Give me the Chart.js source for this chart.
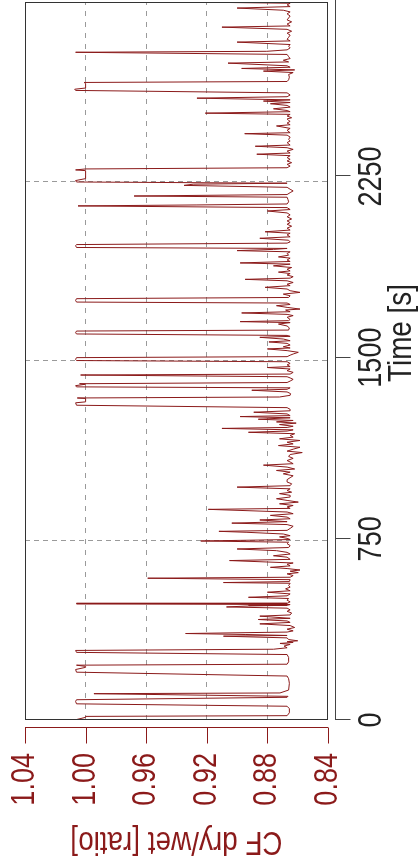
<!DOCTYPE html>
<html>
<head>
<meta charset="utf-8">
<script src="https://cdn.jsdelivr.net/npm/chart.js@4.4.1/dist/chart.umd.min.js"></script>
<style>
  html, body { margin: 0; padding: 0; background: #fff; overflow: hidden; }
  /* chart is drawn landscape, then turned a quarter to the left */
  #wrap { position: absolute; left: 0; top: 0; width: 868px; height: 419px;
          transform-origin: 0 0; transform: translate(0, 868px) rotate(-90deg); }
</style>
</head>
<body>
<div id="wrap"><canvas id="cfChart" width="868" height="419"></canvas></div>
<script>
const timeSec = [
  2, 11, 15, 18, 30, 47, 57, 67, 77, 84, 94, 98, 109, 112, 124, 152, 171, 182, 198, 209, 218, 222, 227, 231, 241, 259, 271, 280, 288, 293, 299,
  306, 313, 317, 321, 324, 328, 333, 340, 347, 350, 354, 358, 364, 369, 376, 383, 391, 398, 404, 410, 416, 421, 430, 435, 443, 450, 456, 463, 468, 472, 475, 478, 481, 483, 489, 496,
  503, 508, 514, 522, 529, 535, 543, 550, 557, 566, 569, 573, 581, 587, 591, 598, 605, 610, 616, 621, 627, 632, 638, 645, 650, 660, 665, 674, 680, 687, 694, 701, 708, 714, 722, 730, 736, 741, 747,
  752, 758, 763, 770, 777, 781, 785, 793, 802, 809, 815, 821, 828, 833, 840, 847, 854, 861, 872, 876, 882, 888, 895, 902, 909, 916, 923, 930, 937, 943, 950, 957, 964, 970, 978, 985,
  995, 1003, 1011, 1019, 1026, 1033, 1039, 1047, 1055, 1061, 1068, 1074, 1083, 1091, 1099, 1107, 1113, 1121, 1129, 1136, 1143, 1150, 1157, 1164, 1171, 1178, 1185, 1191, 1196, 1201, 1207, 1211, 1216, 1223, 1229, 1234, 1240, 1245,
  1251, 1256, 1260, 1267, 1274, 1280, 1286, 1293, 1303, 1313, 1317, 1331, 1333, 1337, 1344, 1351, 1358, 1365, 1369, 1375, 1379, 1384, 1390, 1392, 1397, 1403, 1410, 1416, 1421, 1428, 1432, 1439, 1446, 1453, 1459, 1463, 1470, 1476, 1483,
  1488, 1493, 1500, 1504, 1510, 1515, 1522, 1529, 1536, 1540, 1545, 1552, 1559, 1565, 1570, 1577, 1584, 1588, 1592, 1598, 1603, 1610, 1614, 1623, 1631, 1639, 1645, 1649, 1653, 1658, 1667, 1674, 1679, 1685, 1690, 1697, 1701, 1708, 1715, 1720, 1726,
  1730, 1737, 1744, 1749, 1756, 1763, 1770, 1777, 1784, 1791, 1798, 1804, 1811, 1818, 1824, 1829, 1835, 1842, 1848, 1854, 1859, 1866, 1873, 1880, 1887, 1892, 1898, 1904, 1912, 1917, 1924, 1931, 1938, 1943, 1948, 1952, 1956, 1963, 1968, 1974, 1979,
  1986, 1994, 2000, 2008, 2015, 2021, 2028, 2036, 2044, 2052, 2059, 2066, 2074, 2083, 2091, 2099, 2107, 2113, 2121, 2128, 2132, 2136, 2145, 2154, 2164, 2169, 2175, 2183, 2190, 2197, 2205, 2213, 2218, 2222, 2227, 2233, 2241, 2274, 2277, 2281,
  2286, 2293, 2300, 2307, 2314, 2321, 2328, 2336, 2342, 2347, 2355, 2362, 2369, 2375, 2380, 2390, 2397, 2403, 2413, 2421, 2427, 2431, 2441, 2449, 2459, 2464, 2471, 2478,
  2482, 2488, 2493, 2500, 2507, 2512, 2518, 2523, 2530, 2537, 2544, 2551, 2556, 2562, 2567, 2574, 2580, 2587, 2596, 2606, 2611, 2616, 2635, 2639, 2643, 2650, 2661, 2672, 2680, 2686, 2691, 2697, 2702, 2708, 2719, 2724, 2731, 2738, 2746, 2755,
  2764, 2768, 2774, 2782, 2789, 2796, 2806, 2811, 2818, 2826, 2835, 2843, 2851, 2859, 2868, 2873, 2881, 2890, 2898, 2906, 2914, 2923, 2931, 2938, 2947, 2953, 2960, 2967, 2972
];
const cfRatio = [
  1.006, 1.000, 1.000, 0.867, 0.8655, 0.8655, 0.867, 1.006, 1.0066, 1.006, 0.867, 0.8664, 0.9945, 0.8717, 0.866, 0.8655, 0.866, 0.867, 1.006, 1.0066, 1.000, 1.000, 1.006, 0.867, 0.866, 0.866, 0.867, 1.006, 1.0066, 0.876, 0.867,
  0.869, 0.865, 0.8717, 0.863, 0.867, 0.860, 0.866, 0.867, 0.909, 0.867, 0.8947, 0.934, 0.867, 0.863, 0.867, 0.862, 0.865, 0.885, 0.865, 0.867, 0.886, 0.865, 0.885, 0.865, 0.864, 0.867, 0.865, 0.867, 0.907, 0.8925, 0.867, 0.865, 1.006, 0.867, 0.865, 0.867,
  0.866, 0.8925, 0.867, 0.865, 0.880, 0.865, 0.868, 0.865, 0.866, 0.865, 0.909, 0.8655, 0.865, 0.959, 0.865, 0.863, 0.867, 0.8596, 0.865, 0.8585, 0.867, 0.878, 0.865, 0.867, 0.863, 0.905, 0.865, 0.867, 0.876, 0.865, 0.867, 0.874, 0.900, 0.866, 0.865, 0.867, 0.866, 0.924, 0.865,
  0.867, 0.872, 0.865, 0.8695, 0.8935, 0.912, 0.867, 0.865, 0.863, 0.867, 0.9035, 0.867, 0.885, 0.865, 0.867, 0.878, 0.863, 0.867, 0.919, 0.865, 0.867, 0.863, 0.872, 0.8596, 0.867, 0.874, 0.865, 0.865, 0.872, 0.864, 0.867, 0.865, 0.900, 0.865, 0.864, 0.867,
  0.867, 0.865, 0.863, 0.8695, 0.865, 0.874, 0.862, 0.867, 0.8826, 0.863, 0.865, 0.867, 0.863, 0.866, 0.865, 0.857, 0.867, 0.863, 0.8585, 0.8727, 0.863, 0.867, 0.8585, 0.872, 0.863, 0.865, 0.862, 0.8925, 0.867, 0.863, 0.910, 0.867, 0.863, 0.872, 0.861, 0.874, 0.863, 0.886,
  0.865, 0.898, 0.865, 0.867, 0.889, 0.865, 0.865, 0.867, 1.006, 1.0066, 1.000, 1.000, 1.0055, 0.872, 0.865, 0.8647, 0.867, 0.8903, 0.867, 0.865, 1.006, 1.0066, 1.000, 1.004, 0.867, 0.865, 0.863, 0.865, 0.867, 1.0033, 0.865, 0.863, 0.867, 0.865, 0.880, 0.865, 0.867, 0.865, 0.867,
  1.006, 1.0066, 1.006, 0.867, 0.865, 0.863, 0.8596, 0.867, 0.880, 0.865, 0.8695, 0.865, 0.867, 0.879, 0.865, 0.8695, 0.885, 0.865, 0.867, 1.006, 1.0066, 1.006, 0.866, 0.8655, 0.867, 0.8727, 0.865, 0.898, 0.866, 0.865, 0.867, 0.863, 0.867, 0.897, 0.865, 0.868, 0.8585, 0.867, 0.874, 0.865, 0.867,
  1.006, 1.0066, 1.006, 0.866, 0.865, 0.8695, 0.8585, 0.865, 0.867, 0.8815, 0.865, 0.867, 0.863, 0.867, 0.8947, 0.865, 0.863, 0.867, 0.865, 0.8727, 0.865, 0.867, 0.864, 0.876, 0.865, 0.898, 0.865, 0.867, 0.865, 0.8727, 0.866, 0.867, 0.865, 0.900, 0.876, 0.867, 1.006, 1.0066, 1.006, 0.867, 0.865,
  0.866, 0.885, 0.865, 0.867, 0.865, 0.8815, 0.865, 0.867, 0.864, 0.867, 0.865, 0.867, 0.864, 0.867, 0.865, 0.867, 0.880, 0.865, 0.867, 1.005, 0.9265, 0.867, 0.866, 0.8664, 0.867, 0.968, 0.867, 0.865, 0.863, 0.865, 0.867, 0.935, 0.929, 0.867, 1.006, 1.0066, 1.000, 1.000, 1.0066, 1.000,
  0.867, 0.865, 0.867, 0.864, 0.867, 0.865, 0.867, 0.865, 0.887, 0.865, 0.867, 0.863, 0.867, 0.888, 0.865, 0.867, 0.865, 0.866, 0.865, 0.867, 0.895, 0.865, 0.867, 0.865, 0.874, 0.865, 0.867, 0.865,
  0.866, 0.867, 0.864, 0.867, 0.865, 0.921, 0.865, 0.867, 0.876, 0.865, 0.867, 0.878, 0.865, 0.8826, 0.865, 0.9265, 0.867, 0.865, 0.867, 1.0066, 1.0072, 1.000, 1.000, 1.001, 0.867, 0.866, 0.8655, 0.866, 0.863, 0.8826, 0.862, 0.897, 0.865, 0.867, 0.906, 0.866, 0.8695, 0.865, 0.866, 0.867,
  1.0066, 0.8804, 0.867, 0.865, 0.866, 0.865, 0.900, 0.865, 0.867, 0.866, 0.865, 0.867, 0.864, 0.867, 0.910, 0.865, 0.867, 0.864, 0.867, 0.866, 0.865, 0.867, 0.865, 0.8695, 0.900, 0.865, 0.867, 0.865, 0.933
];
const timeTicks = [0, 750, 1500, 2250];
const cfTicks = [1.04, 1.00, 0.96, 0.92, 0.88, 0.84];
const timeTitle = 'Time [s]';
const cfTitle = 'CF dry/wet [ratio]';

const lineRed = '#8b1a1a';
const gridGrey = '#9a9a9a';
const font = '"Liberation Sans", Arial, sans-serif';

// narrow text: Liberation Sans squeezed along the text direction
function narrowText(ctx, text, x, y, size, align) {
    ctx.save();
    ctx.translate(x, y);
    ctx.scale(0.82, 1);
    ctx.font = size + 'px ' + font;
    ctx.textAlign = align;
    ctx.textBaseline = 'middle';
    ctx.fillText(text, 0, 0);
    ctx.restore();
}

// axes drawn R-style: detached from the box, with ticks and labels
const rAxes = {
    id: 'rAxes',
    afterDraw(chart) {
        const { ctx, chartArea: a, scales: { x, y } } = chart;
        ctx.save();
        ctx.lineWidth = 1;

        ctx.strokeStyle = '#333';
        ctx.strokeRect(a.left + 0.5, a.top + 0.5, a.right - a.left - 1, a.bottom - a.top - 1);

        // time axis (bottom here, right side once turned)
        const ty = a.bottom + 7.5;
        ctx.strokeStyle = '#444';
        ctx.beginPath();
        ctx.moveTo(x.getPixelForValue(0), ty);
        ctx.lineTo(chart.width, ty);
        timeTicks.forEach(v => {
            const px = Math.round(x.getPixelForValue(v)) + 0.5;
            ctx.moveTo(px, ty);
            ctx.lineTo(px, ty + 15);
        });
        ctx.stroke();
        ctx.fillStyle = '#222';
        timeTicks.forEach(v => narrowText(ctx, String(v), x.getPixelForValue(v), a.bottom + 44, 33, 'center'));
        narrowText(ctx, timeTitle, 535, a.bottom + 74, 34, 'center');

        // CF axis (left here, bottom once turned)
        const cx = a.left - 7.5;
        ctx.strokeStyle = lineRed;
        ctx.beginPath();
        ctx.moveTo(cx, y.getPixelForValue(1.04));
        ctx.lineTo(cx, y.getPixelForValue(0.84));
        cfTicks.forEach(v => {
            const py = Math.round(y.getPixelForValue(v)) + 0.5;
            ctx.moveTo(cx, py);
            ctx.lineTo(cx - 16, py);
        });
        ctx.stroke();
        ctx.fillStyle = lineRed;
        cfTicks.forEach(v => narrowText(ctx, v.toFixed(2), a.left - 33, y.getPixelForValue(v), 33, 'right'));
        ctx.translate(27, (a.top + a.bottom) / 2);
        ctx.rotate(-Math.PI / 2);
        narrowText(ctx, cfTitle, 0, 0, 34, 'center');
        ctx.restore();
    }
};

const ctx = document.getElementById('cfChart').getContext('2d');
new Chart(ctx, {
    type: 'scatter',
    data: {
        datasets: [{
            data: timeSec.map((t, i) => ({ x: t, y: cfRatio[i] })),
            showLine: true,
            borderColor: lineRed,
            borderWidth: 1,
            pointRadius: 0,
            tension: 0
        }]
    },
    options: {
        responsive: false,
        animation: false,
        events: [],
        layout: { padding: { left: 0, right: 2, top: 25, bottom: 0 } },
        plugins: { legend: { display: false }, tooltip: { enabled: false } },
        scales: {
            x: {
                type: 'linear', min: 0, max: 2972,
                ticks: { display: false, stepSize: 750 },
                grid: {
                    drawTicks: false,
                    color: c => (c.tick && c.tick.value > 0 && c.tick.value < 2900) ? gridGrey : 'transparent'
                },
                border: { display: false, dash: [5, 4] },
                afterFit: s => { s.height = 91; }
            },
            y: {
                type: 'linear', min: 0.84, max: 1.04,
                ticks: { display: false, stepSize: 0.04 },
                grid: {
                    drawTicks: false,
                    color: c => (c.tick && c.tick.value > 0.845 && c.tick.value < 1.035) ? gridGrey : 'transparent'
                },
                border: { display: false, dash: [5, 6] },
                afterFit: s => { s.width = 148; }
            }
        }
    },
    plugins: [rAxes]
});
</script>
</body>
</html>
